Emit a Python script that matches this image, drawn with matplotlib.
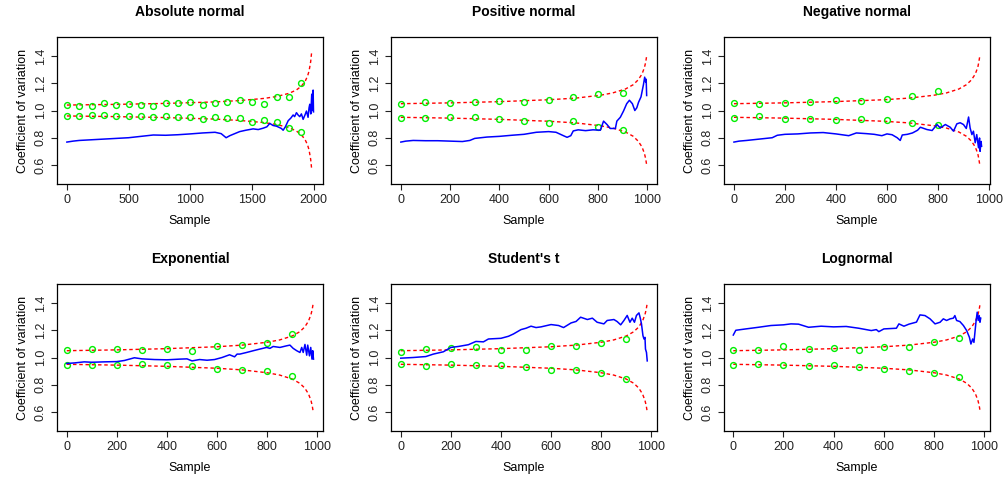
import matplotlib.pyplot as plt
import numpy as np

plt.rcParams["font.family"] = ["Liberation Sans", "DejaVu Sans"]

titles = ["Absolute normal", "Positive normal", "Negative normal",
          "Exponential", "Student's t", "Lognormal"]

# running coefficient of variation (blue)
abs_x = [0, 50, 100, 200, 300, 400, 500, 600, 700, 800, 900, 1000, 1100, 1200,
         1250, 1290, 1320, 1360, 1400, 1450, 1509, 1550, 1590, 1620, 1644, 1670,
         1698, 1738, 1752, 1770, 1793, 1815, 1833, 1845, 1860, 1875, 1887, 1900,
         1914, 1928, 1941, 1954, 1962, 1968, 1976, 1984, 1990, 1995, 1998]
abs_cv = [0.768, 0.775, 0.78, 0.785, 0.79, 0.795, 0.80, 0.81, 0.82, 0.818, 0.822,
          0.828, 0.835, 0.84, 0.83, 0.80, 0.815, 0.83, 0.845, 0.855, 0.865, 0.86,
          0.87, 0.88, 0.905, 0.89, 0.885, 0.868, 0.855, 0.88, 0.925, 0.945, 0.967,
          0.955, 0.984, 0.965, 0.955, 0.975, 0.935, 0.965, 0.996, 0.95, 1.02,
          1.046, 0.975, 1.12, 1.0, 1.15, 0.99]

pos_x = [0, 20, 50, 100, 150, 200, 250, 280, 300, 350, 400, 450, 500, 550, 600,
         630, 660, 675, 690, 700, 720, 750, 780, 810, 823, 837, 850, 871, 877,
         891, 904, 917, 928, 940, 950, 958, 965, 975, 985, 990, 994, 996, 998]
pos_cv = [0.768, 0.775, 0.78, 0.778, 0.778, 0.775, 0.772, 0.78, 0.795, 0.805,
          0.81, 0.818, 0.825, 0.84, 0.845, 0.84, 0.815, 0.803, 0.815, 0.85,
          0.858, 0.852, 0.858, 0.855, 0.922, 0.897, 0.868, 0.868, 0.922, 0.95,
          0.996, 1.05, 1.075, 1.05, 1.0, 1.02, 1.06, 1.10, 1.19, 1.245, 1.21,
          1.23, 1.11]

neg_x = [0, 20, 50, 100, 150, 170, 200, 250, 300, 350, 400, 450, 480, 520, 550,
         580, 600, 620, 640, 652, 660, 680, 700, 720, 731, 757, 777, 796, 809,
         829, 848, 861, 874, 887, 900, 911, 920, 926, 933, 939, 946, 952, 959,
         963, 965, 969, 971]
neg_cv = [0.768, 0.775, 0.78, 0.79, 0.80, 0.818, 0.825, 0.828, 0.835, 0.838,
          0.828, 0.815, 0.835, 0.83, 0.825, 0.815, 0.828, 0.822, 0.80, 0.78,
          0.82, 0.825, 0.835, 0.855, 0.877, 0.86, 0.853, 0.897, 0.872, 0.897,
          0.877, 0.848, 0.902, 0.91, 0.897, 0.868, 0.952, 0.872, 0.823, 0.848,
          0.763, 0.823, 0.726, 0.798, 0.70, 0.773, 0.737]

exp_x = [0, 30, 70, 100, 150, 200, 230, 270, 300, 350, 400, 450, 480, 500, 530,
         560, 590, 620, 650, 670, 680, 691, 718, 745, 771, 798, 811, 824, 851,
         878, 891, 904, 918, 931, 938, 944, 951, 958, 962, 969, 974, 979, 982,
         985]
exp_cv = [0.956, 0.96, 0.968, 0.965, 0.968, 0.97, 0.978, 0.998, 0.99, 0.985,
          0.983, 0.988, 0.99, 0.975, 0.985, 0.98, 0.985, 1.0, 1.02, 1.005, 1.025,
          1.025, 1.037, 1.05, 1.062, 1.074, 1.067, 1.081, 1.074, 1.086, 1.091,
          1.067, 1.05, 1.037, 1.074, 1.037, 1.096, 1.017, 1.091, 1.012, 1.074,
          0.988, 1.05, 0.988]

t_x = [0, 50, 100, 130, 170, 200, 230, 270, 300, 330, 350, 400, 430, 450, 480,
       500, 520, 540, 560, 600, 630, 650, 680, 700, 718, 745, 765, 784, 811,
       824, 851, 864, 878, 891, 904, 915, 924, 933, 941, 951, 957, 961, 967,
       971, 975, 977, 981, 984]
t_cv = [0.995, 1.0, 1.007, 1.025, 1.042, 1.074, 1.081, 1.094, 1.118, 1.115,
        1.136, 1.141, 1.156, 1.173, 1.205, 1.215, 1.23, 1.22, 1.225, 1.242,
        1.235, 1.22, 1.254, 1.265, 1.296, 1.279, 1.289, 1.259, 1.247, 1.272,
        1.279, 1.264, 1.24, 1.272, 1.309, 1.259, 1.289, 1.259, 1.309, 1.328,
        1.284, 1.247, 1.16, 1.136, 1.148, 1.062, 1.037, 0.975]

log_x = [0, 10, 50, 100, 150, 200, 230, 260, 300, 350, 400, 450, 500, 550, 570,
         580, 600, 650, 660, 680, 700, 730, 744, 764, 784, 804, 824, 837, 850,
         864, 877, 883, 890, 903, 917, 930, 941, 947, 954, 959, 963, 967, 972,
         976, 980, 983, 986]
log_cv = [1.165, 1.20, 1.21, 1.222, 1.235, 1.24, 1.247, 1.245, 1.222, 1.23,
          1.225, 1.228, 1.215, 1.198, 1.205, 1.19, 1.21, 1.215, 1.247, 1.23,
          1.245, 1.26, 1.313, 1.308, 1.284, 1.247, 1.259, 1.284, 1.272, 1.284,
          1.289, 1.308, 1.272, 1.264, 1.235, 1.198, 1.148, 1.099, 1.136, 1.111,
          1.185, 1.259, 1.333, 1.272, 1.308, 1.259, 1.289]

# expected band (red dashed)
abs_band_x = [0, 400, 800, 1200, 1400, 1600, 1700, 1800, 1860, 1900, 1930, 1950,
              1962, 1975, 1982]
abs_band_hi = [1.04, 1.045, 1.052, 1.063, 1.073, 1.089, 1.103, 1.126, 1.151,
               1.179, 1.214, 1.253, 1.29, 1.358, 1.42]
abs_band_lo = [0.96, 0.955, 0.948, 0.937, 0.927, 0.911, 0.897, 0.874, 0.849,
               0.821, 0.786, 0.747, 0.71, 0.642, 0.58]

pos_band_x = [0, 200, 400, 600, 710, 810, 860, 912, 943, 963, 979, 989, 994, 998]
neg_band_x = [0, 196, 392, 588, 686, 784, 833, 882, 911, 931, 946, 956, 960, 964]
std_band_x = [0, 200, 400, 600, 700, 800, 850, 900, 930, 950, 965, 975, 980, 984]
band_hi = [1.05, 1.056, 1.065, 1.079, 1.091, 1.112, 1.129, 1.158, 1.189, 1.224,
           1.267, 1.316, 1.354, 1.40]
band_lo = [0.95, 0.944, 0.935, 0.921, 0.909, 0.888, 0.871, 0.842, 0.811, 0.776,
           0.733, 0.684, 0.646, 0.60]

# simulated check points (green circles)
abs_pt_hi = [1.041, 1.031, 1.031, 1.053, 1.041, 1.051, 1.038, 1.033, 1.058, 1.058,
             1.066, 1.043, 1.058, 1.063, 1.080, 1.063, 1.048, 1.098, 1.098, 1.20]
abs_pt_lo = [0.959, 0.957, 0.967, 0.967, 0.957, 0.962, 0.957, 0.952, 0.957, 0.949,
             0.949, 0.939, 0.949, 0.947, 0.942, 0.917, 0.932, 0.912, 0.872, 0.840]
pos_pt_hi = [1.048, 1.063, 1.056, 1.063, 1.071, 1.066, 1.080, 1.100, 1.120, 1.130]
pos_pt_lo = [0.942, 0.944, 0.952, 0.952, 0.939, 0.922, 0.907, 0.922, 0.882, 0.860]
neg_pt_hi = [1.053, 1.046, 1.053, 1.061, 1.080, 1.071, 1.085, 1.105, 1.140]
neg_pt_lo = [0.944, 0.957, 0.939, 0.934, 0.929, 0.934, 0.927, 0.910, 0.890]
exp_pt_hi = [1.054, 1.059, 1.064, 1.052, 1.059, 1.049, 1.084, 1.089, 1.104, 1.173]
exp_pt_lo = [0.948, 0.948, 0.948, 0.951, 0.943, 0.936, 0.914, 0.911, 0.899, 0.864]
t_pt_hi = [1.042, 1.059, 1.067, 1.079, 1.054, 1.057, 1.084, 1.081, 1.104, 1.136]
t_pt_lo = [0.953, 0.938, 0.951, 0.946, 0.948, 0.931, 0.906, 0.911, 0.884, 0.840]
log_pt_hi = [1.052, 1.052, 1.081, 1.059, 1.069, 1.052, 1.077, 1.079, 1.114, 1.143]
log_pt_lo = [0.948, 0.951, 0.948, 0.938, 0.946, 0.931, 0.914, 0.901, 0.886, 0.859]

panels = [
    (abs_x, abs_cv, abs_band_x, abs_band_hi, abs_band_lo, abs_pt_hi, abs_pt_lo,
     (-80, 2075), [0, 500, 1000, 1500, 2000]),
    (pos_x, pos_cv, pos_band_x, band_hi, band_lo, pos_pt_hi, pos_pt_lo,
     (-40, 1040), [0, 200, 400, 600, 800, 1000]),
    (neg_x, neg_cv, neg_band_x, band_hi, band_lo, neg_pt_hi, neg_pt_lo,
     (-39, 1004), [0, 200, 400, 600, 800, 1000]),
    (exp_x, exp_cv, std_band_x, band_hi, band_lo, exp_pt_hi, exp_pt_lo,
     (-39, 1023), [0, 200, 400, 600, 800, 1000]),
    (t_x, t_cv, std_band_x, band_hi, band_lo, t_pt_hi, t_pt_lo,
     (-39, 1023), [0, 200, 400, 600, 800, 1000]),
    (log_x, log_cv, std_band_x, band_hi, band_lo, log_pt_hi, log_pt_lo,
     (-37, 1023), [0, 200, 400, 600, 800, 1000]),
]

W, H = 1004, 478
fig = plt.figure(figsize=(W / 100, H / 100), dpi=100)
lefts = [57, 391, 724]
tops = [37, 284]
aw, ah = 266, 147

for i, (title, p) in enumerate(zip(titles, panels)):
    x, cv, bx, bhi, blo, phi, plo, xlim, xticks = p
    l = lefts[i % 3]
    t = tops[i // 3]
    ax = fig.add_axes([l / W, 1 - (t + ah) / H, aw / W, ah / H])

    px = np.arange(len(phi)) * 100
    ax.plot(bx, bhi, color="red", lw=1, ls=(0, (2.5, 2)))
    ax.plot(bx, blo, color="red", lw=1, ls=(0, (2.5, 2)))
    ax.plot(px, phi, "o", mfc="none", mec="#00ee00", ms=4.2, mew=1)
    ax.plot(px, plo, "o", mfc="none", mec="#00ee00", ms=4.2, mew=1)
    ax.plot(x, cv, color="blue", lw=1.1)

    ax.set_xlim(*xlim)
    ax.set_ylim(0.46, 1.54)
    ax.set_xticks(xticks)
    ax.set_yticks([0.6, 0.8, 1.0, 1.2, 1.4])
    ax.set_yticklabels(["0.6", "0.8", "1.0", "1.2", "1.4"], rotation=90, va="center")
    ax.tick_params(direction="out", length=4.5, width=0.8, labelsize=9,
                   colors="#222222", pad=3)
    for s in ax.spines.values():
        s.set_linewidth(0.9)
    ax.set_title(title, fontsize=10, fontweight="bold", pad=15)
    ax.set_xlabel("Sample", fontsize=9, labelpad=6)
    ax.set_ylabel("Coefficient of variation", fontsize=9, labelpad=4)

fig.savefig("out.png", dpi=100)
